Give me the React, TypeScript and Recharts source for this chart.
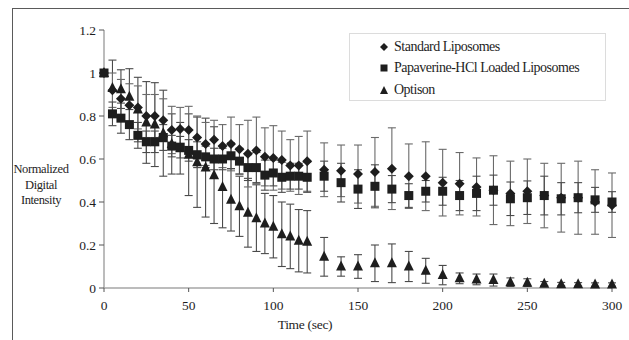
import { ScatterChart, Scatter, XAxis, YAxis, ErrorBar } from 'recharts'

// sampling times (s): every 5 s up to 120, then every 10 s
const TIMES = [
  0, 5, 10, 15, 20, 25, 30, 35, 40, 45, 50, 55, 60, 65, 70, 75, 80, 85, 90, 95, 100, 105, 110, 115, 120,
  130, 140, 150, 160, 170, 180, 190, 200, 210, 220, 230, 240, 250, 260, 270, 280, 290, 300,
]

const STANDARD = [
  1.0, 0.92, 0.88, 0.85, 0.84, 0.8, 0.8, 0.78, 0.735, 0.74, 0.735, 0.7, 0.67, 0.69, 0.66, 0.67, 0.645, 0.625, 0.64,
  0.61, 0.605, 0.595, 0.57, 0.57, 0.59,
  0.55, 0.545, 0.53, 0.54, 0.555, 0.52, 0.52, 0.49, 0.485, 0.47, 0.455, 0.44, 0.45, 0.43, 0.42, 0.42, 0.4, 0.385,
]
const STANDARD_ERR = [
  0, 0.08, 0.09, 0.1, 0.1, 0.1, 0.1, 0.1, 0.11, 0.1, 0.11, 0.1, 0.1, 0.09, 0.1, 0.125, 0.115, 0.155, 0.155,
  0.135, 0.15, 0.135, 0.12, 0.135, 0.14,
  0.125, 0.12, 0.135, 0.16, 0.19, 0.15, 0.16, 0.155, 0.145, 0.135, 0.16, 0.15, 0.15, 0.15, 0.16, 0.17, 0.15, 0.15,
]

const PAPAVERINE = [
  1.0, 0.81, 0.79, 0.76, 0.71, 0.68, 0.68, 0.7, 0.66, 0.655, 0.64, 0.62, 0.61, 0.6, 0.6, 0.615, 0.59, 0.56, 0.56,
  0.525, 0.535, 0.515, 0.52, 0.52, 0.515,
  0.52, 0.49, 0.46, 0.473, 0.46, 0.43, 0.45, 0.45, 0.43, 0.44, 0.455, 0.415, 0.42, 0.43, 0.415, 0.42, 0.41, 0.4,
]
const PAPAVERINE_ERR = [
  0, 0.055, 0.07, 0.07, 0.06, 0.05, 0.05, 0.06, 0.05, 0.05, 0.05, 0.06, 0.05, 0.05, 0.05, 0.06, 0.06, 0.06, 0.07,
  0.07, 0.06, 0.07, 0.06, 0.06, 0.07,
  0.07, 0.09, 0.09, 0.1, 0.063, 0.055, 0.05, 0.065, 0.07, 0.08, 0.07, 0.078, 0.078, 0.09, 0.075, 0.07, 0.058, 0.048,
]

const OPTISON = [
  1.0, 0.93, 0.925, 0.89, 0.83, 0.77, 0.76, 0.72, 0.67, 0.65, 0.62, 0.585, 0.56, 0.525, 0.47, 0.41, 0.38, 0.35,
  0.325, 0.3, 0.285, 0.25, 0.24, 0.22, 0.215,
  0.145, 0.1, 0.1, 0.115, 0.115, 0.1, 0.08, 0.06, 0.045, 0.04, 0.037, 0.027, 0.025, 0.02, 0.018, 0.017, 0.016, 0.016,
]
const OPTISON_ERR = [
  0, 0.13, 0.09, 0.13, 0.15, 0.19, 0.195, 0.2, 0.14, 0.12, 0.19, 0.21, 0.23, 0.225, 0.19, 0.145, 0.14, 0.16, 0.155,
  0.14, 0.145, 0.15, 0.15, 0.145, 0.145,
  0.09, 0.045, 0.055, 0.085, 0.09, 0.07, 0.058, 0.045, 0.025, 0.025, 0.028, 0.02, 0.018, 0.01, 0.008, 0.008, 0.008, 0.008,
]

const X_TICKS = [0, 50, 100, 150, 200, 250, 300]
const Y_TICKS = [0, 0.2, 0.4, 0.6, 0.8, 1, 1.2]

const SERIES_NAMES = ['Standard Liposomes', 'Papaverine-HCl Loaded Liposomes', 'Optison']

const INK = '#1e1e1e'
const FONT = '"Liberation Serif", "DejaVu Serif", serif'

const toPoints = (vals: number[], errs: number[]) =>
  TIMES.map((t, i) => ({ x: t, y: vals[i], err: errs[i] }))

const standardData = toPoints(STANDARD, STANDARD_ERR)
const papaverineData = toPoints(PAPAVERINE, PAPAVERINE_ERR)
const optisonData = toPoints(OPTISON, OPTISON_ERR)

type ShapeProps = { cx?: number; cy?: number }

function DiamondMark({ cx = 0, cy = 0 }: ShapeProps) {
  const r = 5
  return <polygon points={`${cx},${cy - r} ${cx + r},${cy} ${cx},${cy + r} ${cx - r},${cy}`} fill={INK} />
}

function SquareMark({ cx = 0, cy = 0 }: ShapeProps) {
  const h = 4.5
  return <rect x={cx - h} y={cy - h} width={h * 2} height={h * 2} fill={INK} />
}

function TriangleMark({ cx = 0, cy = 0 }: ShapeProps) {
  const h = 5
  return <polygon points={`${cx},${cy - h - 1} ${cx + h},${cy + h - 1} ${cx - h},${cy + h - 1}`} fill={INK} />
}

function LegendBox() {
  const marks = [
    <polygon key="d" points="4,0 8,4 4,8 0,4" fill={INK} />,
    <rect key="s" x={0.5} y={0.5} width={7} height={7} fill={INK} />,
    <polygon key="t" points="4,0 8,8 0,8" fill={INK} />,
  ]
  return (
    <div
      style={{
        position: 'absolute',
        left: 349,
        top: 33,
        width: 257,
        height: 68,
        border: '1px solid #dcdcdc',
        background: '#fff',
        boxSizing: 'border-box',
        paddingTop: 2,
        fontFamily: FONT,
        fontSize: 14,
        color: INK,
      }}
    >
      {SERIES_NAMES.map((name, i) => (
        <div key={name} style={{ display: 'flex', alignItems: 'center', height: 21.5, paddingLeft: 30 }}>
          <svg width={8} height={8} style={{ marginRight: 6 }}>
            {marks[i]}
          </svg>
          <span style={{ letterSpacing: -0.5 }}>{name}</span>
        </div>
      ))}
    </div>
  )
}

export default function App() {
  const tick = { fill: INK, fontSize: 13.5, fontFamily: FONT }
  return (
    <div style={{ position: 'absolute', left: 0, top: 0, width: 629, height: 340, background: '#fff', overflow: 'hidden' }}>
      <div style={{ position: 'absolute', left: 0, top: 0 }}>
        <ScatterChart width={629} height={340} margin={{ top: 30, right: 17, bottom: 22, left: 0 }}>
          <XAxis
            type="number"
            dataKey="x"
            domain={[0, 300]}
            ticks={X_TICKS}
            interval={0}
            tick={tick}
            tickSize={4}
            tickMargin={8}
            height={30}
            axisLine={{ stroke: '#a6a6a6', strokeWidth: 1.5 }}
            tickLine={{ stroke: '#555' }}
          />
          <YAxis
            type="number"
            dataKey="y"
            domain={[0, 1.2]}
            ticks={Y_TICKS}
            interval={0}
            tick={tick}
            tickSize={5}
            tickMargin={3}
            width={104}
            axisLine={{ stroke: '#a6a6a6', strokeWidth: 1.5 }}
            tickLine={{ stroke: '#555' }}
          />
          <Scatter name={SERIES_NAMES[2]} data={optisonData} shape={<TriangleMark />} isAnimationActive={false}>
            <ErrorBar dataKey="err" direction="y" width={4} stroke="#4a4a4a" strokeWidth={1.1} />
          </Scatter>
          <Scatter name={SERIES_NAMES[0]} data={standardData} shape={<DiamondMark />} isAnimationActive={false}>
            <ErrorBar dataKey="err" direction="y" width={4} stroke="#6a6a6a" strokeWidth={1.1} />
          </Scatter>
          <Scatter name={SERIES_NAMES[1]} data={papaverineData} shape={<SquareMark />} isAnimationActive={false}>
            <ErrorBar dataKey="err" direction="y" width={4} stroke="#4a4a4a" strokeWidth={1.1} />
          </Scatter>
        </ScatterChart>
      </div>
      <div
        style={{
          position: 'absolute',
          left: 12,
          top: 8,
          width: 700,
          height: 400,
          borderTop: '1px solid #5a5a5a',
          borderLeft: '1px solid #5a5a5a',
          pointerEvents: 'none',
        }}
      />
      <div
        style={{
          position: 'absolute',
          left: 8,
          top: 162,
          width: 66,
          textAlign: 'center',
          fontFamily: FONT,
          fontSize: 12.5,
          lineHeight: '15.5px',
          color: INK,
          letterSpacing: -0.4,
        }}
      >
        Normalized
        <br />
        Digital
        <br />
        Intensity
      </div>
      <div
        style={{
          position: 'absolute',
          left: 255,
          top: 317,
          width: 100,
          textAlign: 'center',
          fontFamily: FONT,
          fontSize: 13.5,
          color: INK,
          letterSpacing: -0.3,
        }}
      >
        Time (sec)
      </div>
      <LegendBox />
    </div>
  )
}
